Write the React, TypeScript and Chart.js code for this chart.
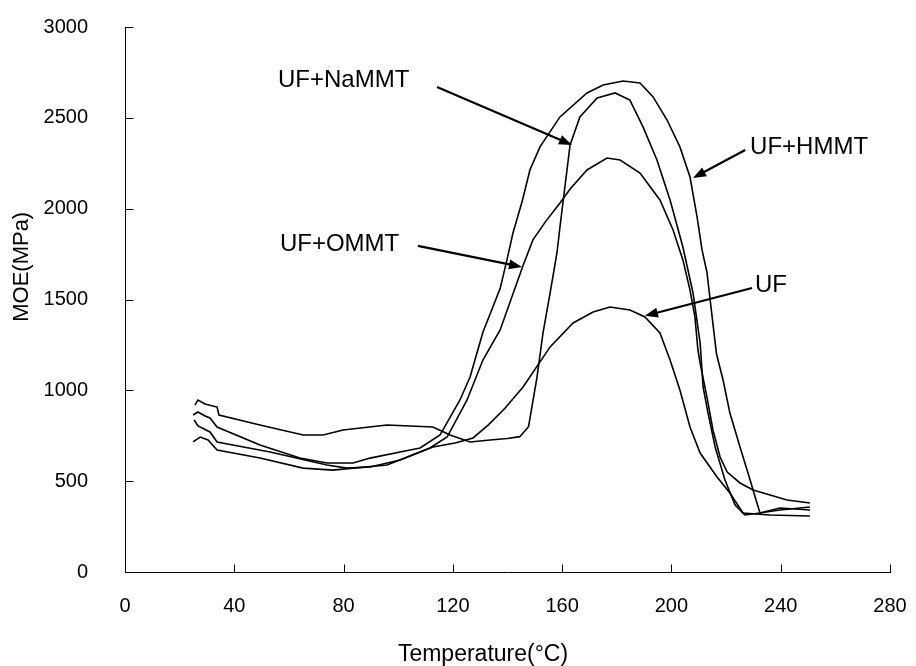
import React, { useEffect, useRef } from "react";
import { Chart, registerables } from "chart.js";

Chart.register(...registerables);

const FONT = "'Liberation Sans', Arial, Helvetica, sans-serif";

const xTicks = [0, 40, 80, 120, 160, 200, 240, 280];
const yTicks = [0, 500, 1000, 1500, 2000, 2500, 3000];
const xTitle = "Temperature(°C)";
const yTitle = "MOE(MPa)";

const seriesNames = ["UF", "UF+OMMT", "UF+NaMMT", "UF+HMMT"];

const ufTemp = [24.9, 27.5, 30.4, 33.7, 49.4, 65.2, 76.1, 83.5, 95.9, 112.7, 120.8, 127.4, 133, 139, 145.7, 155.6, 164, 171.3, 177.5, 184.8, 190.3, 195.8, 199.5, 203.1, 206.8, 210.5, 216.7, 221.4, 226.2, 236, 250.7];
const ufMOE = [716, 743, 727, 672, 628, 572, 561, 572, 589, 688, 710, 738, 810, 900, 1018, 1239, 1371, 1431, 1459, 1442, 1404, 1316, 1167, 1002, 798, 655, 523, 435, 325, 314, 308];

const ommtTemp = [25.3, 26.7, 31.1, 33.7, 53.1, 73.9, 81.3, 89.7, 100.7, 111.6, 117.9, 125.2, 131, 137.3, 145.5, 149.3, 154, 159.2, 163, 169.1, 176.4, 181.2, 188.5, 195.8, 200.6, 204.2, 206.8, 208.6, 209.7, 210.5, 213, 215.2, 217.8, 220.4, 225.1, 229.9, 242.3, 250.7];
const ommtMOE = [837, 804, 771, 716, 661, 589, 572, 578, 617, 683, 743, 947, 1167, 1332, 1679, 1828, 1930, 2031, 2110, 2213, 2279, 2268, 2196, 2048, 1883, 1718, 1552, 1404, 1222, 1150, 963, 782, 633, 550, 490, 451, 396, 380];

const nammtTemp = [25.6, 26.7, 29.3, 33.7, 34.4, 49.4, 65.2, 72.5, 79.8, 95.9, 112.7, 119, 126.3, 133.6, 140, 144.5, 147.7, 150.8, 153, 155.6, 158.1, 159.2, 162.9, 166.5, 172.8, 179.4, 184.8, 189.6, 194.7, 199.5, 204.2, 207.9, 210.5, 211.6, 213.4, 216, 219.6, 223.3, 226.9, 232.4, 239.7, 250.7];
const nammtMOE = [919, 947, 925, 908, 864, 809, 754, 754, 782, 809, 798, 754, 716, 727, 735, 745, 800, 1073, 1316, 1536, 1756, 1899, 2351, 2505, 2609, 2637, 2598, 2450, 2268, 2048, 1789, 1536, 1261, 1018, 875, 688, 506, 369, 314, 325, 352, 341];

const hmmtTemp = [24.9, 26.7, 29.3, 31.1, 33.7, 49.4, 64, 73.9, 83.5, 89.7, 100.7, 108, 115.3, 122.6, 126.3, 131, 137.3, 139.8, 142, 145.5, 148.2, 151.9, 159.2, 169.1, 175, 182.3, 188.5, 193.3, 198.4, 203.1, 206.8, 209.4, 211.2, 213, 214.9, 216.5, 218.9, 221.4, 225.1, 228.8, 231.3, 232.4, 239.7, 250.7];
const hmmtMOE = [864, 881, 859, 848, 798, 699, 628, 600, 600, 627, 661, 683, 754, 947, 1073, 1320, 1560, 1718, 1866, 2048, 2213, 2340, 2505, 2637, 2681, 2703, 2692, 2615, 2488, 2340, 2174, 1954, 1773, 1650, 1404, 1200, 1057, 875, 688, 506, 380, 325, 341, 358];

const annotationLabels = ["UF+NaMMT", "UF+HMMT", "UF+OMMT", "UF"];
const labelTemp = [56, 228.8, 56.7, 230.6];
const labelMOE = [2708, 2340, 1806, 1580];
const arrowFromTemp = [114.2, 227, 107.2, 229.5];
const arrowFromMOE = [2670, 2323, 1795, 1563];
const arrowToTemp = [163.6, 207.9, 145.3, 190.3];
const arrowToMOE = [2351, 2169, 1679, 1410];

const seriesTemps = [ufTemp, ommtTemp, nammtTemp, hmmtTemp];
const seriesMOEs = [ufMOE, ommtMOE, nammtMOE, hmmtMOE];

const overlayPlugin = {
  id: "overlay",
  afterDraw(chart: any) {
    const { ctx, chartArea, scales } = chart;
    const xs = scales.x;
    const ys = scales.y;
    const L = Math.round(chartArea.left) + 0.5;
    const B = Math.round(chartArea.bottom) + 0.5;
    ctx.save();
    ctx.strokeStyle = "#000";
    ctx.lineWidth = 1;
    ctx.beginPath();
    ctx.moveTo(L, Math.round(chartArea.top));
    ctx.lineTo(L, B);
    ctx.lineTo(Math.round(chartArea.right) + 1, B);
    ctx.stroke();
    ctx.beginPath();
    xTicks.forEach((v) => {
      const px = Math.round(xs.getPixelForValue(v)) + 0.5;
      ctx.moveTo(px, B);
      ctx.lineTo(px, B - 8);
    });
    yTicks.forEach((v) => {
      const py = Math.round(ys.getPixelForValue(v)) + 0.5;
      ctx.moveTo(L, py);
      ctx.lineTo(L + 8, py);
    });
    ctx.stroke();

    ctx.fillStyle = "#000";
    ctx.font = `23px ${FONT}`;
    ctx.textAlign = "center";
    ctx.textBaseline = "middle";
    ctx.fillText(xTitle, chartArea.left + (chartArea.right - chartArea.left) * 0.468, chartArea.bottom + 83);
    ctx.font = `22px ${FONT}`;
    ctx.save();
    ctx.translate(22, chartArea.top + (chartArea.bottom - chartArea.top) * 0.44);
    ctx.rotate(-Math.PI / 2);
    ctx.fillText(yTitle, 0, 0);
    ctx.restore();

    ctx.font = `24px ${FONT}`;
    ctx.textAlign = "left";
    annotationLabels.forEach((t, i) => {
      ctx.fillText(t, xs.getPixelForValue(labelTemp[i]), ys.getPixelForValue(labelMOE[i]));
      const x1 = xs.getPixelForValue(arrowFromTemp[i]);
      const y1 = ys.getPixelForValue(arrowFromMOE[i]);
      const x2 = xs.getPixelForValue(arrowToTemp[i]);
      const y2 = ys.getPixelForValue(arrowToMOE[i]);
      const ang = Math.atan2(y2 - y1, x2 - x1);
      const hl = 13;
      const hw = 5;
      ctx.lineWidth = 2.2;
      ctx.beginPath();
      ctx.moveTo(x1, y1);
      ctx.lineTo(x2 - Math.cos(ang) * hl * 0.8, y2 - Math.sin(ang) * hl * 0.8);
      ctx.stroke();
      ctx.beginPath();
      ctx.moveTo(x2, y2);
      ctx.lineTo(x2 - Math.cos(ang) * hl - Math.sin(ang) * hw, y2 - Math.sin(ang) * hl + Math.cos(ang) * hw);
      ctx.lineTo(x2 - Math.cos(ang) * hl + Math.sin(ang) * hw, y2 - Math.sin(ang) * hl - Math.cos(ang) * hw);
      ctx.closePath();
      ctx.fill();
    });
    ctx.restore();
  },
};

export default function App() {
  const canvasRef = useRef<HTMLCanvasElement | null>(null);

  useEffect(() => {
    document.body.style.margin = "0";
    const canvas = canvasRef.current;
    if (!canvas) return;
    const datasets = seriesNames.map((name, i) => ({
      label: name,
      data: seriesTemps[i].map((t, j) => ({ x: t, y: seriesMOEs[i][j] })),
      borderColor: "#000",
      backgroundColor: "#000",
      borderWidth: 1.6,
      pointRadius: 0,
      showLine: true,
      tension: 0,
      fill: false,
    }));
    const chart = new Chart(canvas, {
      type: "scatter",
      data: { datasets },
      plugins: [overlayPlugin],
      options: {
        animation: false,
        responsive: true,
        maintainAspectRatio: false,
        layout: { padding: { top: 27, right: 26, left: 0, bottom: 0 } },
        plugins: { legend: { display: false }, tooltip: { enabled: false } },
        scales: {
          x: {
            type: "linear",
            min: 0,
            max: 280,
            grid: { display: false, drawTicks: false },
            border: { display: false },
            afterBuildTicks: (s: any) => {
              s.ticks = xTicks.map((v) => ({ value: v }));
            },
            afterFit: (s: any) => {
              s.height = 94;
              s.paddingLeft = 0;
              s.paddingRight = 0;
              s.paddingTop = 0;
              s.paddingBottom = 0;
            },
            ticks: {
              padding: 22,
              color: "#000",
              font: { family: FONT, size: 20 },
              callback: (v: any) => String(v),
              maxRotation: 0,
            },
          },
          y: {
            type: "linear",
            min: 0,
            max: 3000,
            grid: { display: false, drawTicks: false },
            border: { display: false },
            afterBuildTicks: (s: any) => {
              s.ticks = yTicks.map((v) => ({ value: v }));
            },
            afterFit: (s: any) => {
              s.width = 125;
              s.paddingLeft = 0;
              s.paddingRight = 0;
              s.paddingTop = 0;
              s.paddingBottom = 0;
            },
            ticks: {
              padding: 37,
              color: "#000",
              font: { family: FONT, size: 20 },
              callback: (v: any) => String(v),
            },
          },
        },
      },
    });
    return () => chart.destroy();
  }, []);

  return (
    <div style={{ width: 916, height: 666, position: "relative", background: "#fff" }}>
      <canvas ref={canvasRef} />
    </div>
  );
}
